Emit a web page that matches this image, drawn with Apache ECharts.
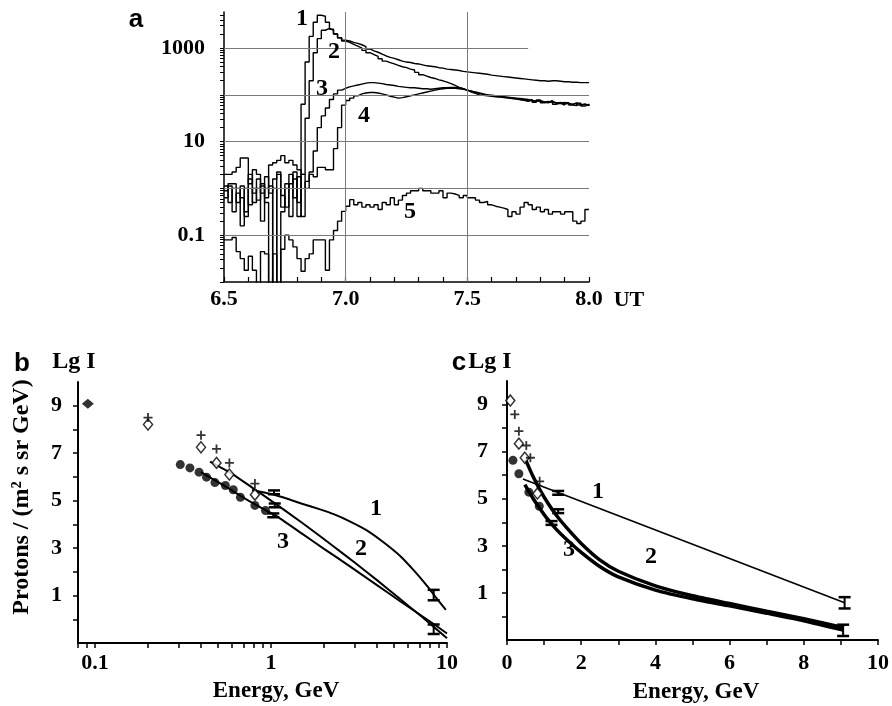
<!DOCTYPE html>
<html lang="en">
<head>
  <meta charset="UTF-8">
  <title>Proton event: time profiles and spectra</title>
  <script src="https://cdn.jsdelivr.net/npm/echarts@6/dist/echarts.min.js"></script>
  <style>
    html, body { margin: 0; padding: 0; background: #fff; }
    #chart { width: 892px; height: 706px; }
  </style>
</head>
<body>
  <div id="chart"></div>
  <script>
    // ---------- panel a: 1-minute counts (lg of rate), bins start at 6.5 UT ----------
    const utStart = 6.5;
    const lgA1 = [0.05, -0.3, 0.0, 0.0, -0.2, -0.6, 0.2, -0.1, 0.0, 0.05, -0.2, 0.05, -3, 0.3, -0.15, -0.4, 0.1, 0.35, -0.6,
      1.8, 2.7, 3.25, 3.55, 3.7, 3.68, 3.55, 3.4, 3.3, 3.22, 3.17, 3.15, 3.12, 3.1, 3.07, 3.03, 2.98, 2.94, 2.91, 2.87, 2.83,
      2.8, 2.78, 2.75, 2.72, 2.7, 2.69, 2.67, 2.66, 2.64, 2.62, 2.61, 2.6, 2.58, 2.57, 2.55, 2.54, 2.53, 2.52, 2.5, 2.49,
      2.48, 2.47, 2.46, 2.45, 2.44, 2.42, 2.41, 2.4, 2.39, 2.38, 2.37, 2.36, 2.35, 2.34, 2.33, 2.32, 2.31, 2.3, 2.3, 2.29,
      2.3, 2.3, 2.29, 2.28, 2.28, 2.27, 2.27, 2.26, 2.26, 2.26, 2.25];
    const lgA2 = [-0.2, 0.05, -0.5, -0.1, -0.8, 0.0, -0.35, 0.0, -0.25, 0.1, -0.3, -3, 0.0, -3, -0.5, 0.1, -0.6, 0.2, -0.3, 0.3,
      1.5, 2.3, 2.9, 3.2, 3.38, 3.42, 3.38, 3.3, 3.22, 3.15, 3.12, 3.08, 3.04, 3.0, 2.95, 2.9, 2.86, 2.82, 2.77, 2.72,
      2.69, 2.66, 2.63, 2.6, 2.58, 2.55, 2.53, 2.48, 2.43, 2.4, 2.37, 2.35, 2.32, 2.3, 2.27, 2.24, 2.2, 2.16, 2.13, 2.1,
      2.06, 2.03, 2.0, 1.99, 1.98, 1.97, 1.96, 1.95, 1.94, 1.93, 1.92, 1.91, 1.9, 1.89, 1.88, 1.87, 1.86, 1.88, 1.85, 1.83,
      1.86, 1.82, 1.84, 1.8, 1.82, 1.79, 1.83, 1.78, 1.8, 1.77, 1.76];
    const lgA3 = [-0.05, 0.1, 0.1, -0.3, 0.05, -0.5, 0.3, -0.3, 0.2, -0.7, 0.25, -0.1, 0.2, 0.35, -0.4, 0.0, 0.3, -0.2, 0.25, -0.6,
      0.15, 0.35, 0.8, 1.3, 1.55, 1.72, 1.9, 2.02, 2.1, 2.14, 2.17, 2.19, 2.21, 2.23, 2.25, 2.26, 2.26, 2.25, 2.24, 2.22,
      2.21, 2.2, 2.18, 2.17, 2.16, 2.15, 2.15, 2.14, 2.13, 2.13, 2.12, 2.13, 2.14, 2.15, 2.15, 2.16, 2.16, 2.15, 2.13, 2.1,
      2.08, 2.06, 2.04, 2.02, 2.0, 1.99, 1.98, 1.97, 1.96, 1.95, 1.94, 1.93, 1.92, 1.91, 1.9, 1.88, 1.87, 1.86, 1.85, 1.86,
      1.84, 1.83, 1.82, 1.84, 1.81, 1.8, 1.82, 1.79, 1.8, 1.78, 1.78];
    const lgA4 = [0.3, 0.3, 0.35, 0.45, 0.65, 0.65, 0.1, 0.4, 0.3, -0.1, 0.0, 0.5, 0.55, 0.6, 0.7, 0.55, 0.6, 0.5, 0.4, 0.3,
      0.0, 0.3, 0.25, 0.45, 0.45, 0.4, 0.4, 0.85, 1.3, 1.78, 1.88, 1.93, 1.98, 2.02, 2.04, 2.05, 2.05, 2.04, 2.02, 2.0,
      1.97, 1.95, 1.93, 1.94, 1.96, 1.98, 2.0, 2.02, 2.04, 2.06, 2.08, 2.1, 2.12, 2.13, 2.14, 2.14, 2.14, 2.13, 2.12, 2.1,
      2.08, 2.05, 2.03, 2.01, 2.0, 1.98, 1.97, 1.96, 1.95, 1.94, 1.93, 1.92, 1.9, 1.88, 1.86, 1.9, 1.84, 1.89, 1.83, 1.84,
      1.88, 1.8, 1.82, 1.78, 1.83, 1.78, 1.77, 1.82, 1.76, 1.8, 1.76];
    const lgA5 = [-1.1, -1.1, -1.05, -1.35, -1.5, -1.75, -1.45, -1.75, -3, -1.35, -1.4, -3, -1.4, -3, -1.3, -1.0, -1.1, -1.25, -1.5, -1.77,
      -1.5, -1.4, -1.1, -1.1, -1.1, -1.75, -1.1, -0.9, -0.7, -0.49, -0.38, -0.24, -0.35, -0.3, -0.4, -0.35, -0.4, -0.35, -0.45, -0.3,
      -0.35, -0.2, -0.35, -0.25, -0.15, -0.1, -0.05, -0.05, 0.0, -0.05, -0.05, -0.1, -0.1, -0.05, -0.2, -0.1, -0.12, -0.15, -0.2, -0.15,
      -0.2, -0.2, -0.25, -0.3, -0.28, -0.35, -0.38, -0.4, -0.42, -0.45, -0.6, -0.5, -0.55, -0.4, -0.3, -0.35, -0.45, -0.4, -0.5, -0.45,
      -0.55, -0.5, -0.5, -0.55, -0.5, -0.5, -0.7, -0.75, -0.7, -0.45, -0.45];
    const aTickLabels = { '3': '1000', '1': '10', '-1': '0.1' };
    const aTimeLabels = [6.5, 7.0, 7.5, 8.0];

    // ---------- panel b: lg I vs energy (log axis) ----------
    const bFilledDiamondE = [0.091];
    const bFilledDiamondLg = [9.08];
    const bDiamondE = [0.2, 0.4, 0.49, 0.58, 0.81];
    const bDiamondLg = [8.21, 7.25, 6.59, 6.1, 5.25];
    const bPlusE = [0.2, 0.4, 0.49, 0.58, 0.81];
    const bPlusLg = [8.5, 7.76, 7.18, 6.59, 5.72];
    const bDotE = [0.305, 0.346, 0.39, 0.43, 0.48, 0.55, 0.61, 0.67, 0.81, 0.93];
    const bDotLg = [6.52, 6.38, 6.2, 5.99, 5.76, 5.64, 5.46, 5.14, 4.8, 4.58];
    const bErrE = [1.04, 1.05, 1.03, 8.4, 8.4];
    const bErrLg = [5.35, 4.8, 4.38, 1.02, -0.42];
    const bErrHalf = [0.08, 0.08, 0.08, 0.22, 0.2];
    const bFit1E = [0.78, 1.0, 1.25, 1.5, 1.9, 2.27, 2.8, 3.5, 4.3, 5.4, 6.5, 7.7, 8.8, 9.85];
    const bFit1Lg = [5.45, 5.28, 5.07, 4.87, 4.63, 4.43, 4.13, 3.75, 3.28, 2.68, 2.05, 1.41, 0.85, 0.4];
    const bFit2E = [0.45, 0.6, 0.8, 1.0, 1.5, 2.27, 3.0, 4.0, 5.44, 7.0, 8.4, 10];
    const bFit2Lg = [6.64, 6.13, 5.5, 5.0, 4.07, 3.07, 2.38, 1.65, 0.84, 0.18, -0.32, -0.8];
    const bFit3E = [0.4, 0.55, 0.7, 0.93, 1.06, 1.5, 2.0, 2.82, 4.0, 5.44, 7.0, 8.4, 10];
    const bFit3Lg = [6.2, 5.6, 5.12, 4.6, 4.38, 3.61, 2.97, 2.22, 1.44, 0.75, 0.2, -0.2, -0.6];

    // ---------- panel c: lg I vs energy (linear axis) ----------
    const cDiamondE = [0.09, 0.32, 0.48, 0.82];
    const cDiamondLg = [9.17, 7.34, 6.74, 5.22];
    const cPlusE = [0.21, 0.32, 0.52, 0.63, 0.88];
    const cPlusLg = [8.58, 7.87, 7.26, 6.74, 5.74];
    const cDotE = [0.16, 0.32, 0.59, 0.87];
    const cDotLg = [6.63, 6.06, 5.28, 4.68];
    const cErrE = [1.38, 1.38, 1.2, 9.1, 9.06];
    const cErrLg = [5.25, 4.47, 3.97, 0.58, -0.59];
    const cErrHalf = [0.08, 0.08, 0.08, 0.24, 0.24];
    const cFit1E = [0.43, 9.1];
    const cFit1Lg = [5.84, 0.58];
    const cFit2E = [0.5, 0.7, 0.88, 1.1, 1.33, 1.6, 2.0, 2.5, 3.0, 4.0, 5.0, 6.0, 7.0, 8.0, 9.08];
    const cFit2Lg = [6.66, 5.95, 5.4, 4.82, 4.3, 3.78, 3.1, 2.4, 1.92, 1.3, 0.88, 0.55, 0.22, -0.1, -0.48];
    const cFit3E = [0.48, 0.7, 0.87, 1.1, 1.33, 1.6, 2.0, 2.5, 3.0, 4.0, 5.0, 6.0, 7.0, 8.0, 9.06];
    const cFit3Lg = [5.6, 5.02, 4.62, 4.12, 3.7, 3.28, 2.72, 2.12, 1.68, 1.12, 0.75, 0.45, 0.14, -0.18, -0.58];

    const serif = '"Liberation Serif", "Times New Roman", serif';
    const sans = '"Liberation Sans", Arial, sans-serif';
    const plusPath = 'path://M4,0H6V4H10V6H6V10H4V6H0V4H4Z';

    const pairs = (xs, ys) => xs.map((x, i) => [x, ys[i]]);
    const logPairs = (xs, ys) => xs.map((x, i) => [Math.log10(x), ys[i]]);
    const timeSeries = lg => lg.map((v, i) => [utStart + i / 60, v]);

    // tick positions (log minors etc.)
    const aTicksY = [];
    for (let k = -2; k <= 3; k++) {
      for (let m = 1; m <= 9; m++) {
        const v = k + Math.log10(m);
        if (v <= 3.77) aTicksY.push(v);
      }
    }
    const aTicksX = [6.5, 6.6, 6.7, 6.8, 6.9, 7.0, 7.1, 7.2, 7.3, 7.4, 7.5, 7.6, 7.7, 7.8, 7.9, 8.0];
    const bTicksX = [Math.log10(0.08), Math.log10(0.09)];
    for (let k = -1; k <= 0; k++) {
      for (let m = 1; m <= 9; m++) bTicksX.push(k + Math.log10(m));
    }
    bTicksX.push(1);
    const lgTicks = [0, 1, 2, 3, 4, 5, 6, 7, 8, 9];

    const labelFont = { color: '#000', fontFamily: serif, fontWeight: 'bold', fontSize: 22 };
    const blackLine = w => ({ show: true, onZero: false, lineStyle: { color: '#000', width: w } });

    function errorBars(xIdx, yIdx, data, capHalf) {
      return {
        type: 'custom', xAxisIndex: xIdx, yAxisIndex: yIdx, data: data, z: 5,
        renderItem: function (params, api) {
          const x = api.value(0), y = api.value(1), e = api.value(2);
          const top = api.coord([x, y + e]);
          const bot = api.coord([x, y - e]);
          const st = { stroke: '#000', lineWidth: 2.5 };
          return {
            type: 'group',
            children: [
              { type: 'line', shape: { x1: top[0], y1: top[1], x2: bot[0], y2: bot[1] }, style: { stroke: '#000', lineWidth: 2 } },
              { type: 'line', shape: { x1: top[0] - capHalf, y1: top[1], x2: top[0] + capHalf, y2: top[1] }, style: st },
              { type: 'line', shape: { x1: bot[0] - capHalf, y1: bot[1], x2: bot[0] + capHalf, y2: bot[1] }, style: st }
            ]
          };
        }
      };
    }

    function scatter(xIdx, yIdx, data, symbol, size, open) {
      return {
        type: 'scatter', xAxisIndex: xIdx, yAxisIndex: yIdx, data: data, symbol: symbol, symbolSize: size, z: 6,
        itemStyle: open ? { color: '#fff', borderColor: '#000', borderWidth: 1.5 } : { color: '#000' }
      };
    }

    function fitLine(xIdx, yIdx, data, width) {
      return {
        type: 'line', xAxisIndex: xIdx, yAxisIndex: yIdx, data: data, smooth: 0.2, symbol: 'none',
        lineStyle: { color: '#000', width: width }, z: 4
      };
    }

    function stepLine(lg) {
      return {
        type: 'line', xAxisIndex: 0, yAxisIndex: 0, data: timeSeries(lg), step: 'end', symbol: 'none',
        clip: true, lineStyle: { color: '#000', width: 1.4 }, z: 3
      };
    }

    function txt(x, y, s, size, family, rotation) {
      return {
        type: 'text', x: x, y: y, rotation: rotation || 0, z: 100,
        style: {
          text: s, font: 'bold ' + size + 'px ' + family, fill: '#000',
          align: 'center', verticalAlign: 'middle', textAlign: 'center', textVerticalAlign: 'middle'
        }
      };
    }

    const chart = echarts.init(document.getElementById('chart'));

    const option = {
      animation: false,
      backgroundColor: '#fff',
      grid: [
        { left: 224, top: 12, width: 365, height: 270 },
        { left: 78, top: 382, width: 369, height: 261 },
        { left: 507, top: 381, width: 371, height: 259 }
      ],
      xAxis: [
        {
          gridIndex: 0, type: 'value', min: 6.5, max: 8.0,
          axisLine: blackLine(1.5),
          axisTick: { show: true, customValues: aTicksX, inside: true, length: 5, lineStyle: { color: '#000', width: 1.2 } },
          axisLabel: Object.assign({ customValues: aTimeLabels, margin: 6, formatter: v => v.toFixed(1) }, labelFont),
          splitLine: { show: false }
        },
        {
          gridIndex: 1, type: 'value', min: Math.log10(0.08), max: 1,
          axisLine: blackLine(2),
          axisTick: { show: true, customValues: bTicksX, length: 5, lineStyle: { color: '#000', width: 1.5 } },
          axisLabel: Object.assign({ customValues: [-1, 0, 1], margin: 9, formatter: v => String(+Math.pow(10, v).toPrecision(3)) }, labelFont),
          splitLine: { show: false }
        },
        {
          gridIndex: 2, type: 'value', min: 0, max: 10,
          axisLine: blackLine(2),
          axisTick: { show: true, customValues: [0, 1, 2, 3, 4, 5, 6, 7, 8, 9, 10], length: 5, lineStyle: { color: '#000', width: 1.5 } },
          axisLabel: Object.assign({ customValues: [0, 2, 4, 6, 8, 10], margin: 12 }, labelFont),
          splitLine: { show: false }
        }
      ],
      yAxis: [
        {
          gridIndex: 0, type: 'value', min: -2, max: 3.77,
          axisLine: blackLine(1.5),
          axisTick: { show: true, customValues: aTicksY, length: 4, lineStyle: { color: '#000', width: 1 } },
          axisLabel: Object.assign({ customValues: [3, 1, -1], margin: 19, formatter: v => aTickLabels[String(v)] || '' }, labelFont),
          splitLine: { show: false }
        },
        {
          gridIndex: 1, type: 'value', min: -1, max: 10,
          axisLine: blackLine(2),
          axisTick: { show: true, customValues: lgTicks, length: 5, lineStyle: { color: '#000', width: 1.5 } },
          axisLabel: Object.assign({ customValues: [1, 3, 5, 7, 9], margin: 16 }, labelFont),
          splitLine: { show: false }
        },
        {
          gridIndex: 2, type: 'value', min: -1, max: 10,
          axisLine: blackLine(2),
          axisTick: { show: true, customValues: lgTicks, length: 5, lineStyle: { color: '#000', width: 1.5 } },
          axisLabel: Object.assign({ customValues: [1, 3, 5, 7, 9], margin: 19 }, labelFont),
          splitLine: { show: false }
        }
      ],
      series: [
        // panel a grid lines
        {
          type: 'line', xAxisIndex: 0, yAxisIndex: 0, data: [], z: 1,
          markLine: {
            silent: true, symbol: ['none', 'none'], label: { show: false },
            lineStyle: { color: '#7a7a7a', width: 1, type: 'solid' },
            data: [
              [{ coord: [6.5, 3] }, { coord: [7.75, 3] }],
              { yAxis: 2 }, { yAxis: 1 }, { yAxis: 0 }, { yAxis: -1 },
              { xAxis: 7.0 }, { xAxis: 7.5 }
            ]
          }
        },
        stepLine(lgA5), stepLine(lgA4), stepLine(lgA3), stepLine(lgA2), stepLine(lgA1),

        // panel b
        fitLine(1, 1, logPairs(bFit1E, bFit1Lg), 2),
        fitLine(1, 1, logPairs(bFit2E, bFit2Lg), 2),
        fitLine(1, 1, logPairs(bFit3E, bFit3Lg), 2),
        errorBars(1, 1, bErrE.map((e, i) => [Math.log10(e), bErrLg[i], bErrHalf[i]]), 6),
        scatter(1, 1, logPairs(bFilledDiamondE, bFilledDiamondLg), 'diamond', [12, 10], false),
        scatter(1, 1, logPairs(bDiamondE, bDiamondLg), 'diamond', [9, 11], true),
        scatter(1, 1, logPairs(bPlusE, bPlusLg), plusPath, 9, false),
        scatter(1, 1, logPairs(bDotE, bDotLg), 'circle', 9, false),

        // panel c
        fitLine(2, 2, pairs(cFit1E, cFit1Lg), 1.6),
        fitLine(2, 2, pairs(cFit2E, cFit2Lg), 3.5),
        fitLine(2, 2, pairs(cFit3E, cFit3Lg), 3.5),
        errorBars(2, 2, cErrE.map((e, i) => [e, cErrLg[i], cErrHalf[i]]), 6),
        scatter(2, 2, pairs(cDiamondE, cDiamondLg), 'diamond', [9, 11], true),
        scatter(2, 2, pairs(cPlusE, cPlusLg), plusPath, 9, false),
        scatter(2, 2, pairs(cDotE, cDotLg), 'circle', 9, false)
      ],
      graphic: [
        // panel letters and lg I headers
        txt(136, 20, 'a', 26, sans),
        txt(22, 364, 'b', 26, sans),
        txt(459, 363, 'c', 26, sans),
        txt(74, 362, 'Lg I', 24, serif),
        txt(490, 362, 'Lg I', 24, serif),
        // panel a curve numbers
        txt(302, 19, '1', 24, serif),
        txt(334, 52, '2', 24, serif),
        txt(322, 89, '3', 24, serif),
        txt(364, 116, '4', 24, serif),
        txt(410, 212, '5', 24, serif),
        txt(629, 300, 'UT', 22, serif),
        // panel b curve numbers
        txt(376, 509, '1', 24, serif),
        txt(361, 549, '2', 24, serif),
        txt(283, 542, '3', 24, serif),
        // panel c curve numbers
        txt(598, 492, '1', 24, serif),
        txt(651, 557, '2', 24, serif),
        txt(569, 550, '3', 24, serif),
        // axis titles
        txt(276, 691, 'Energy, GeV', 23, serif),
        txt(696, 692, 'Energy, GeV', 23, serif),
        txt(22, 497, 'Protons / (m² s sr GeV)', 24, serif, Math.PI / 2)
      ]
    };

    chart.setOption(option);
  </script>
</body>
</html>
